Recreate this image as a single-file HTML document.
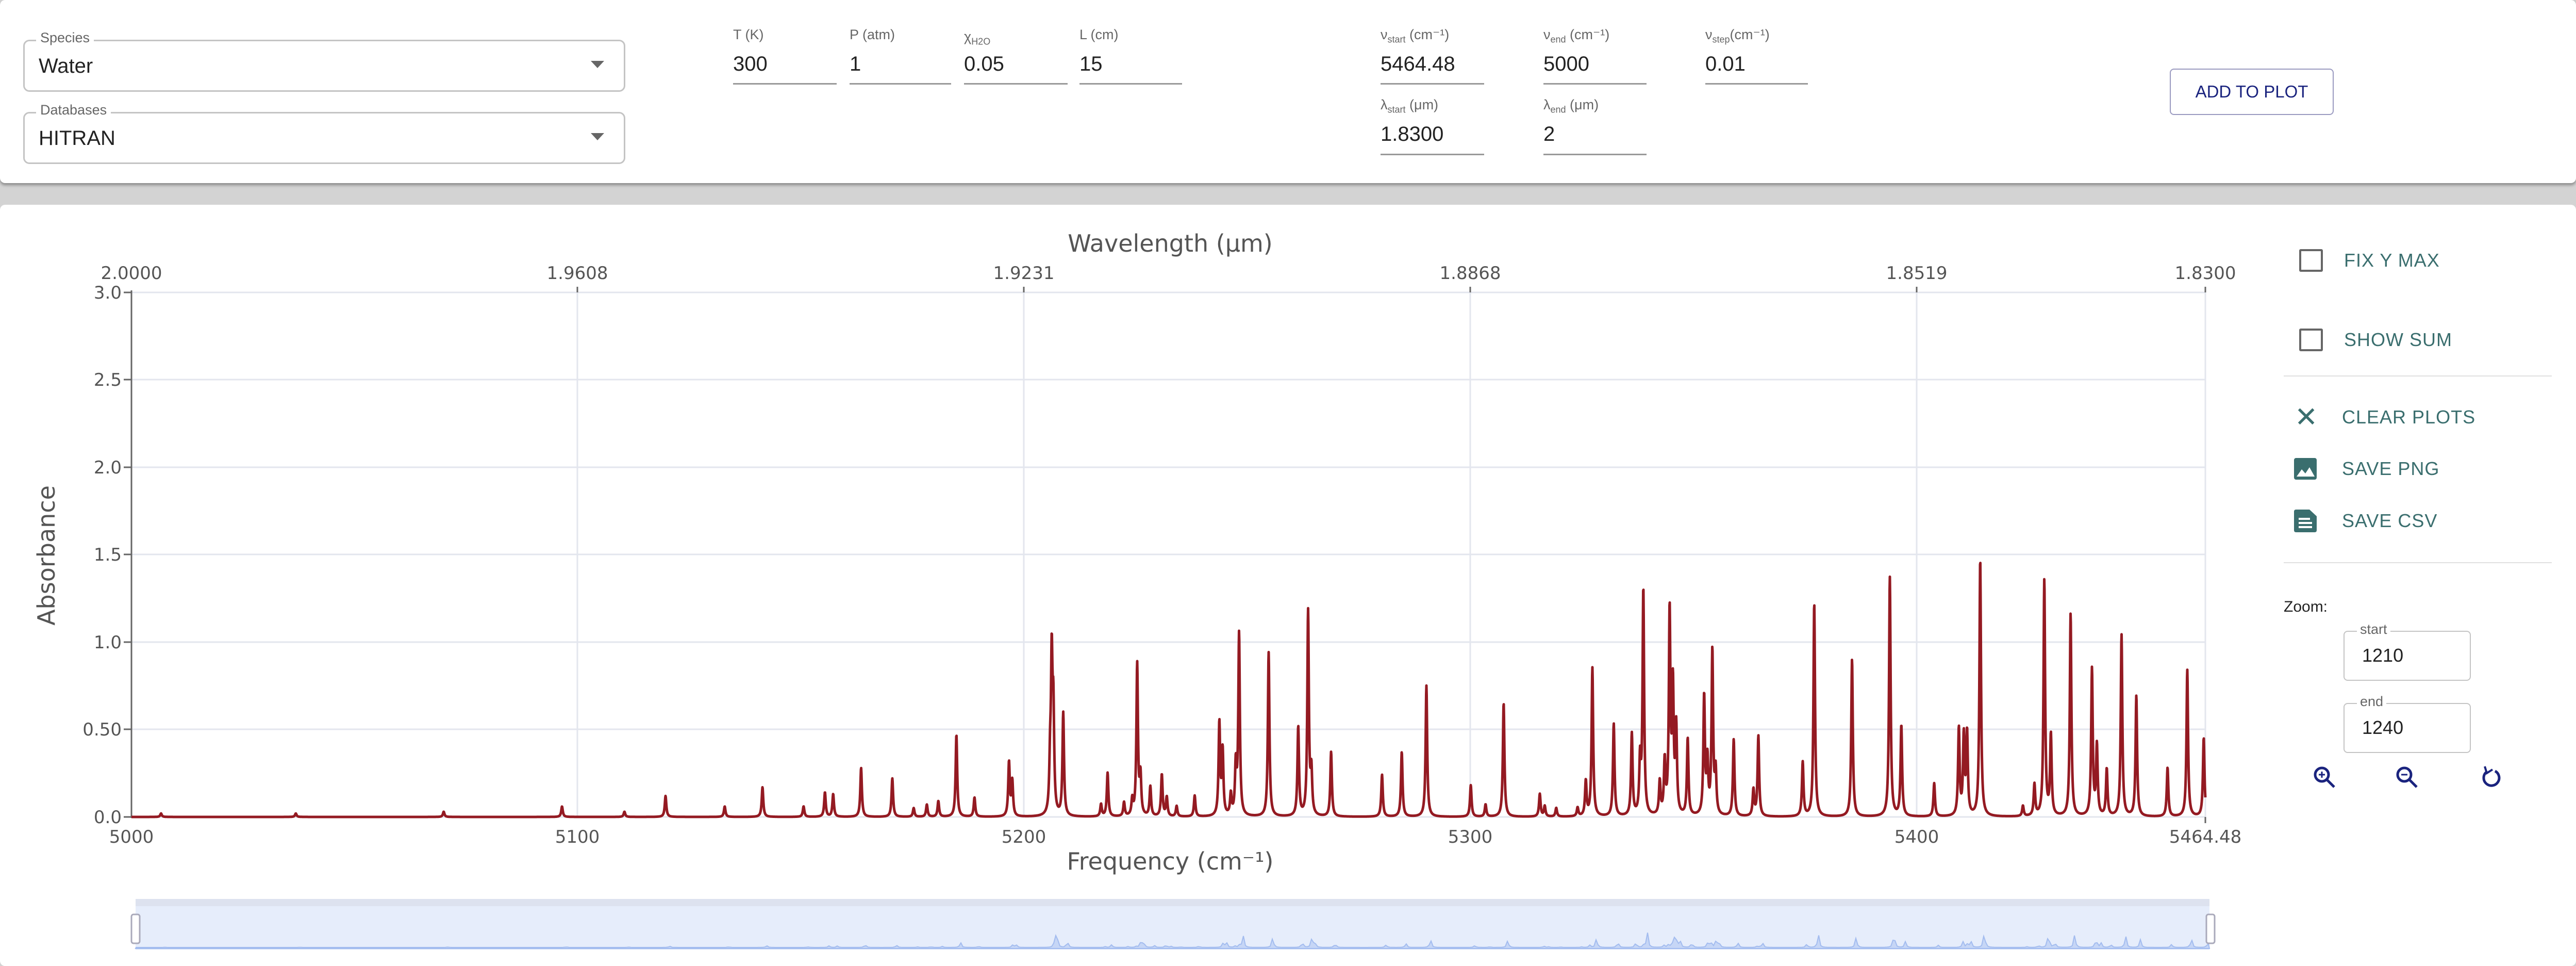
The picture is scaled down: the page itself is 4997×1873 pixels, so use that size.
<!DOCTYPE html>
<html><head><meta charset="utf-8"><style>
body{margin:0;width:4997px;height:1873px;background:#d3d3d3;font-family:"Liberation Sans",sans-serif;position:relative;overflow:hidden}
.a{position:absolute}
.p1{left:0;top:0;width:4997px;height:355px;background:#fff;border-radius:10px;box-shadow:0 4px 6px rgba(0,0,0,.35)}
.p2{left:0;top:397px;width:4997px;height:1476px;background:#fff;border-radius:10px}
.box{border:3px solid #c4c4c4;border-radius:12px}
.lbl{font-size:27px;color:#666;background:#fff;padding:0 8px}
.val{font-size:40px;color:#222}
.ul{height:3px;background:#999}
.menu{font-size:36px;color:#3a6e6e;letter-spacing:1px}
</style></head><body>
<div class="a p1"></div>
<div class="a box" style="left:45px;top:77px;width:1162px;height:95px"></div>
<div class="a lbl" style="left:70px;top:58px">Species</div>
<div class="a val" style="left:75px;top:106px">Water</div>
<div class="a" style="left:1146px;top:118px;width:0;height:0;border-left:13px solid transparent;border-right:13px solid transparent;border-top:14px solid #666"></div>
<div class="a box" style="left:45px;top:217px;width:1162px;height:95px"></div>
<div class="a lbl" style="left:70px;top:198px">Databases</div>
<div class="a val" style="left:75px;top:246px">HITRAN</div>
<div class="a" style="left:1146px;top:258px;width:0;height:0;border-left:13px solid transparent;border-right:13px solid transparent;border-top:14px solid #666"></div>
<div class="a lbl" style="left:1414px;top:52px">T (K)</div>
<div class="a val" style="left:1422px;top:102px">300</div>
<div class="a ul" style="left:1422px;top:161px;width:201px"></div>
<div class="a lbl" style="left:1640px;top:52px">P (atm)</div>
<div class="a val" style="left:1648px;top:102px">1</div>
<div class="a ul" style="left:1648px;top:161px;width:197px"></div>
<div class="a lbl" style="left:1862px;top:56px">χ<sub style="font-size:18px">H2O</sub></div>
<div class="a val" style="left:1870px;top:102px">0.05</div>
<div class="a ul" style="left:1870px;top:161px;width:201px"></div>
<div class="a lbl" style="left:2086px;top:52px">L (cm)</div>
<div class="a val" style="left:2094px;top:102px">15</div>
<div class="a ul" style="left:2094px;top:161px;width:199px"></div>
<div class="a lbl" style="left:2670px;top:52px">ν<sub style="font-size:18px">start</sub> (cm⁻¹)</div>
<div class="a val" style="left:2678px;top:102px">5464.48</div>
<div class="a ul" style="left:2678px;top:161px;width:201px"></div>
<div class="a lbl" style="left:2986px;top:52px">ν<sub style="font-size:18px">end</sub> (cm⁻¹)</div>
<div class="a val" style="left:2994px;top:102px">5000</div>
<div class="a ul" style="left:2994px;top:161px;width:200px"></div>
<div class="a lbl" style="left:3300px;top:52px">ν<sub style="font-size:18px">step</sub>(cm⁻¹)</div>
<div class="a val" style="left:3308px;top:102px">0.01</div>
<div class="a ul" style="left:3308px;top:161px;width:199px"></div>
<div class="a lbl" style="left:2670px;top:188px">λ<sub style="font-size:18px">start</sub> (μm)</div>
<div class="a val" style="left:2678px;top:238px">1.8300</div>
<div class="a ul" style="left:2678px;top:298px;width:201px"></div>
<div class="a lbl" style="left:2986px;top:188px">λ<sub style="font-size:18px">end</sub> (μm)</div>
<div class="a val" style="left:2994px;top:238px">2</div>
<div class="a ul" style="left:2994px;top:298px;width:200px"></div>
<div class="a" style="left:4209px;top:133px;width:314px;height:86px;border:2px solid #9a9ac0;border-radius:8px;color:#1a237e;font-size:33px;text-align:center;line-height:86px">ADD TO PLOT</div>

<div class="a p2"></div>
<svg class="a" style="left:0;top:0" width="4997" height="1873">
<g stroke="#e3e6ee" stroke-width="3">
<line x1="255" y1="567" x2="4278" y2="567"/><line x1="255" y1="736" x2="4278" y2="736"/>
<line x1="255" y1="906" x2="4278" y2="906"/><line x1="255" y1="1075" x2="4278" y2="1075"/>
<line x1="255" y1="1245" x2="4278" y2="1245"/><line x1="255" y1="1414" x2="4278" y2="1414"/>
<line x1="1120" y1="567" x2="1120" y2="1584"/><line x1="1986" y1="567" x2="1986" y2="1584"/>
<line x1="2852" y1="567" x2="2852" y2="1584"/><line x1="3718" y1="567" x2="3718" y2="1584"/>
<line x1="4278" y1="567" x2="4278" y2="1584"/>
</g>
<line x1="255" y1="563" x2="255" y2="1586" stroke="#666" stroke-width="3"/>
<line x1="255" y1="1584" x2="4278" y2="1584" stroke="#e3e6ee" stroke-width="3"/>
<g stroke="#666" stroke-width="3">
<line x1="240" y1="567" x2="255" y2="567"/><line x1="240" y1="736" x2="255" y2="736"/><line x1="240" y1="906" x2="255" y2="906"/><line x1="240" y1="1075" x2="255" y2="1075"/><line x1="240" y1="1245" x2="255" y2="1245"/><line x1="240" y1="1414" x2="255" y2="1414"/><line x1="240" y1="1584" x2="255" y2="1584"/>
<line x1="1120" y1="556" x2="1120" y2="567"/><line x1="1986" y1="556" x2="1986" y2="567"/><line x1="2852" y1="556" x2="2852" y2="567"/><line x1="3718" y1="556" x2="3718" y2="567"/><line x1="4278" y1="556" x2="4278" y2="567"/>
<line x1="4278" y1="1584" x2="4278" y2="1596"/>
</g>
<g fill="#555" font-size="34" text-anchor="end" font-family="DejaVu Sans">
<text x="236" y="579">3.0</text><text x="236" y="748">2.5</text><text x="236" y="918">2.0</text><text x="236" y="1087">1.5</text><text x="236" y="1257">1.0</text><text x="236" y="1426">0.50</text><text x="236" y="1596">0.0</text>
</g>
<g fill="#555" font-size="34" text-anchor="middle" font-family="DejaVu Sans">
<text x="255" y="1634">5000</text><text x="1120" y="1634">5100</text><text x="1986" y="1634">5200</text><text x="2852" y="1634">5300</text><text x="3718" y="1634">5400</text><text x="4278" y="1634">5464.48</text>
<text x="255" y="541">2.0000</text><text x="1120" y="541">1.9608</text><text x="1986" y="541">1.9231</text><text x="2852" y="541">1.8868</text><text x="3718" y="541">1.8519</text><text x="4278" y="541">1.8300</text>
</g>
<text x="2270" y="488" font-size="46" fill="#555" text-anchor="middle" font-family="DejaVu Sans">Wavelength (μm)</text>
<text x="2270" y="1686" font-size="46" fill="#555" text-anchor="middle" font-family="DejaVu Sans">Frequency (cm⁻¹)</text>
<text transform="translate(106,1077) rotate(-90)" font-size="46" fill="#555" text-anchor="middle" font-family="DejaVu Sans">Absorbance</text>
<path id="sp" fill="none" stroke="#941a22" stroke-width="5" stroke-linejoin="round"/>
<rect x="263" y="1743" width="4023" height="96" fill="#e6edfb"/>
<rect x="263" y="1743" width="4023" height="14" fill="#dde2ef"/>
<line x1="263" y1="1839" x2="4286" y2="1839" stroke="#a8c0f0" stroke-width="3"/>
<path id="mini" fill="#c6d6f6" stroke="#a3bcef" stroke-width="2"/>
<rect x="255" y="1773" width="16" height="56" rx="4" fill="#fff" stroke="#aab" stroke-width="3"/>
<rect x="4280" y="1773" width="16" height="56" rx="4" fill="#fff" stroke="#aab" stroke-width="3"/>
</svg>
<div class="a" style="left:4460px;top:483px;width:38px;height:36px;border:4px solid #666;border-radius:3px"></div>
<div class="a menu" style="left:4547px;top:484px">FIX Y MAX</div>
<div class="a" style="left:4460px;top:637px;width:38px;height:36px;border:4px solid #666;border-radius:3px"></div>
<div class="a menu" style="left:4547px;top:638px">SHOW SUM</div>
<div class="a" style="left:4430px;top:728px;width:520px;height:2px;background:#e0e0e0"></div>
<div class="a" style="left:4451px;top:782px;font-size:54px;color:#3a6e6e;line-height:54px">✕</div>
<div class="a menu" style="left:4543px;top:788px">CLEAR PLOTS</div>
<svg class="a" style="left:4450px;top:888px" width="44" height="42"><rect width="44" height="42" rx="4" fill="#3a6e6e"/><path d="M5 36 L15 22 L22 30 L30 18 L40 36Z" fill="#fff"/></svg>
<div class="a menu" style="left:4543px;top:888px">SAVE PNG</div>
<svg class="a" style="left:4450px;top:988px" width="44" height="44"><path d="M0 4 Q0 0 4 0 H30 L44 13 V40 Q44 44 40 44 H4 Q0 44 0 40Z" fill="#3a6e6e"/><rect x="9" y="16" width="22" height="4" fill="#fff"/><rect x="9" y="24" width="26" height="4" fill="#fff"/><rect x="9" y="32" width="26" height="4" fill="#fff"/></svg>
<div class="a menu" style="left:4543px;top:989px">SAVE CSV</div>
<div class="a" style="left:4430px;top:1090px;width:520px;height:2px;background:#e0e0e0"></div>
<div class="a" style="left:4430px;top:1160px;font-size:30px;color:#222">Zoom:</div>
<div class="a box" style="left:4546px;top:1223px;width:243px;height:93px;border-width:2px;border-radius:8px"></div>
<div class="a" style="left:4572px;top:1205px;font-size:27px;color:#666;background:#fff;padding:0 6px">start</div>
<div class="a" style="left:4582px;top:1250px;font-size:36px;color:#222">1210</div>
<div class="a box" style="left:4546px;top:1363px;width:243px;height:93px;border-width:2px;border-radius:8px"></div>
<div class="a" style="left:4572px;top:1345px;font-size:27px;color:#666;background:#fff;padding:0 6px">end</div>
<div class="a" style="left:4582px;top:1390px;font-size:36px;color:#222">1240</div>
<svg class="a" style="left:4488px;top:1483px" width="440" height="48" fill="none" stroke="#1a237e" stroke-width="5">
<circle cx="16" cy="19" r="13"/><line x1="26" y1="29" x2="40" y2="43"/><line x1="10" y1="19" x2="22" y2="19" stroke-width="3"/><line x1="16" y1="13" x2="16" y2="25" stroke-width="3"/>
<circle cx="176" cy="19" r="13"/><line x1="186" y1="29" x2="200" y2="43"/><line x1="170" y1="19" x2="182" y2="19" stroke-width="3"/>
<path d="M335 14 A15 15 0 1 0 352 12"/><path d="M332 3 L336 16 L347 9" stroke-width="4"/>
</svg>
<script>
var P=[[98,.02],[180,.02],[270,.03],[342,.06],[380,.03],[405,.12],[441,.06],[464,.17],[489,.06],[502,.14],[507,.13],[524,.28],[543,.22],[556,.05],[564,.07],[571,.09],[582,.47],[593,.11],[614,.31],[616,.2],[639,.26],[640,.86],[641,.55],[647,.59],[670,.07],[674,.25],[684,.08],[689,.09],[692,.87],[694,.22],[700,.17],[707,.24],[710,.11],[716,.06],[727,.12],[742,.53],[744,.37],[749,.12],[752,.28],[754,1.04],[772,.94],[790,.51],[796,1.17],[798,.24],[810,.37],[841,.24],[853,.37],[868,.75],[895,.18],[904,.07],[915,.65],[937,.13],[940,.06],[947,.05],[960,.05],[965,.2],[969,.85],[982,.53],[993,.47],[998,.3],[1000,1.29],[1010,.19],[1013,.3],[1016,1.16],[1018,.72],[1020,.49],[1027,.44],[1037,.68],[1039,.3],[1042,.94],[1044,.24],[1055,.44],[1067,.15],[1070,.46],[1097,.31],[1104,1.22],[1127,.9],[1150,1.37],[1157,.52],[1177,.19],[1192,.5],[1195,.45],[1197,.47],[1205,1.47],[1231,.06],[1238,.18],[1244,1.35],[1248,.46],[1260,1.16],[1273,.84],[1276,.4],[1282,.27],[1291,1.04],[1300,.69],[1319,.28],[1331,.84],[1341,.45]];
var L=255,R=4278,sc=(R-L)/(1342-80);
P.forEach(function(p){p[0]=L+(p[0]-80)*sc});
var g=1.8,d="",m="M263 1839";
for(var x=L;x<=R;x+=0.5){var y=0;for(var i=0;i<P.length;i++){var t=(x-P[i][0])/g;y+=P[i][1]/(1+t*t)}
 if(y>2.95)y=2.95;d+=(x==L?"M":"L")+x.toFixed(1)+" "+(1584-y*339).toFixed(1);
 if((x*2)%8==0){var mx=263+(x-L)*(4023/(R-L));m+="L"+mx.toFixed(1)+" "+(1837-y*22).toFixed(1)}}
m+="L4286 1839Z";
document.getElementById("sp").setAttribute("d",d);
document.getElementById("mini").setAttribute("d",m);
</script>
</body></html>
